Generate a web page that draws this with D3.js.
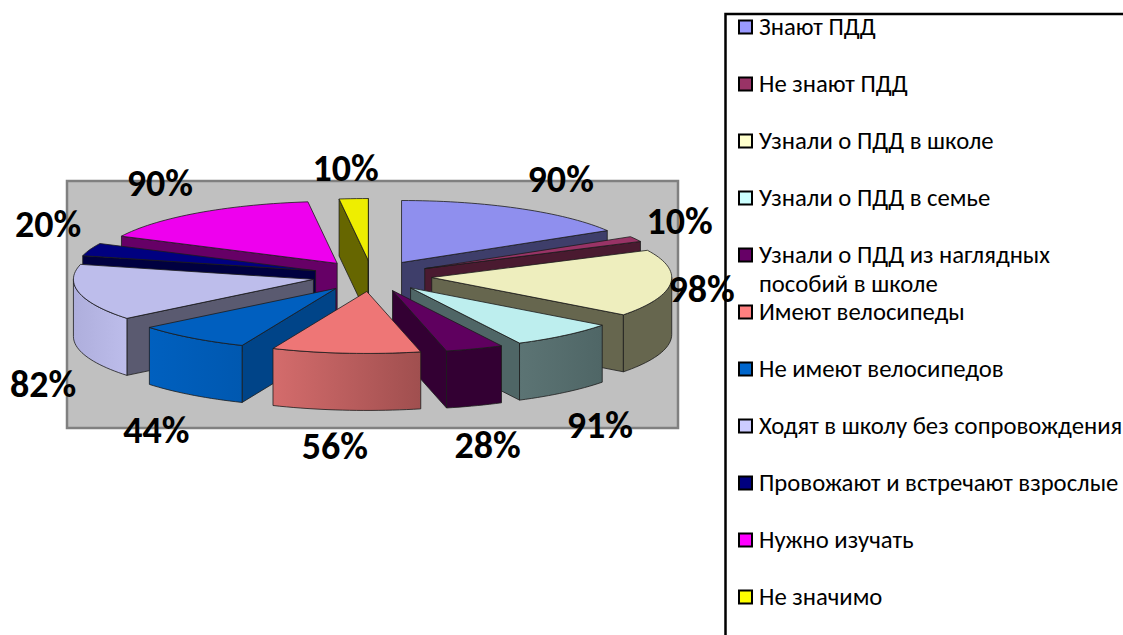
<!DOCTYPE html>
<html>
<head>
<meta charset="utf-8">
<script src="https://cdn.jsdelivr.net/npm/d3@7"></script>
<style>
    body { margin: 0; background: #fff; }
    svg { display: block; }
    text { font-family: Carlito, Lato, "Open Sans", sans-serif; fill: #000; }
</style>
</head>
<body>
<div class="container"></div>
<script>
const WIDTH = 1123;
const HEIGHT = 635;
const DEPTH = 57;
const EXPLODE = 0.25;

const categories = [
    'Знают ПДД',
    'Не знают ПДД',
    'Узнали о ПДД в школе',
    'Узнали о ПДД в семье',
    'Узнали о ПДД из наглядных\nпособий в школе',
    'Имеют велосипеды',
    'Не имеют велосипедов',
    'Ходят в школу без сопровождения',
    'Провожают и встречают взрослые',
    'Нужно изучать',
    'Не значимо'
];
// printed percentages
const percents = [90, 10, 98, 91, 28, 56, 44, 82, 20, 90, 10];
// the drawn slices do not follow the printed numbers, so their sizes are read off separately
const sliceSizes = [59, 5, 63, 26, 14, 36, 28, 53, 12, 57, 7];

const legendColors = ['#9999ff', '#993366', '#ffffcc', '#ccffff', '#660066', '#ff8080', '#0066cc', '#ccccff', '#000080', '#ff00ff', '#ffff00'];
const topColors = ['#8f8fee', '#993366', '#eeeebe', '#bdeeee', '#5f005f', '#ee7676', '#005fbf', '#bdbdeb', '#000080', '#ee00ee', '#eeee00'];
const wallColors = ['#3e3e6a', '#4a1a30', '#66664e', '#4f6666', '#330033', '#a35050', '#004488', '#5a5a70', '#000040', '#660066', '#666600'];
const arcLeft = ['#3e3e6a', '#4a1a30', '#66664e', '#5c7474', '#330033', '#d46c6c', '#0060bf', '#aeaedc', '#000040', '#660066', '#666600'];
const arcRight = ['#3e3e6a', '#4a1a30', '#66664e', '#4f6666', '#330033', '#a04f4f', '#0058b0', '#bdbdeb', '#000040', '#660066', '#666600'];

var fillLayout = function() {
    var svg = d3.select('.container').append('svg')
        .attr('width', WIDTH)
        .attr('height', HEIGHT);

    // flattened pie: the unit circle lands on a wide ellipse
    let xScale = d3.scaleLinear().domain([-1, 1]).range([132, 612]);
    let yScale = d3.scaleLinear().domain([-1, 1]).range([338, 214]);

    svg.append('rect')
        .attr('x', 67).attr('y', 181)
        .attr('width', 611).attr('height', 247)
        .attr('fill', '#c0c0c0')
        .attr('stroke', '#808080')
        .attr('stroke-width', 2.5);

    let pie = d3.pie().sort(null).value((d) => d);
    let slices = pie(sliceSizes).map((d, i) => {
        let mid = (d.startAngle + d.endAngle) / 2;
        return {
            i: i,
            a0: d.startAngle,
            a1: d.endAngle,
            mid: mid,
            ox: EXPLODE * Math.sin(mid),
            oy: EXPLODE * Math.cos(mid)
        };
    });

    let point = (s, a, r, drop) => [
        xScale(s.ox + r * Math.sin(a)),
        yScale(s.oy + r * Math.cos(a)) + drop
    ];
    let arcPoints = (s, a0, a1, drop) => {
        let n = Math.max(2, Math.ceil((a1 - a0) / 0.03));
        return d3.range(n + 1).map((k) => point(s, a0 + (a1 - a0) * k / n, 1, drop));
    };
    let line = d3.line();

    let defs = svg.append('defs');
    slices.forEach((s) => {
        let grad = defs.append('linearGradient').attr('id', 'side' + s.i);
        grad.append('stop').attr('offset', 0).attr('stop-color', arcLeft[s.i]);
        grad.append('stop').attr('offset', 1).attr('stop-color', arcRight[s.i]);
    });

    // back slices first
    let order = slices.slice().sort((a, b) => Math.cos(b.mid) - Math.cos(a.mid));
    let pieGroup = svg.append('g')
        .attr('stroke', '#1c1c1c')
        .attr('stroke-width', 0.8)
        .attr('stroke-linejoin', 'round');

    order.forEach((s) => {
        let g = pieGroup.append('g');
        let wall = (a) => {
            let p0 = point(s, a, 0, 0), p1 = point(s, a, 1, 0);
            g.append('path')
                .attr('fill', wallColors[s.i])
                .attr('d', line([p0, p1, point(s, a, 1, DEPTH), point(s, a, 0, DEPTH)]) + 'Z');
        };
        if (Math.sin(s.a0) < 0) wall(s.a0);
        if (Math.sin(s.a1) > 0) wall(s.a1);

        let from = Math.max(s.a0, Math.PI / 2);
        let to = Math.min(s.a1, 3 * Math.PI / 2);
        if (from < to) {
            let side = arcPoints(s, from, to, 0)
                .concat(arcPoints(s, from, to, DEPTH).reverse());
            g.append('path')
                .attr('fill', `url(#side${s.i})`)
                .attr('d', line(side) + 'Z');
        }

        let top = [point(s, 0, 0, 0)].concat(arcPoints(s, s.a0, s.a1, 0));
        g.append('path')
            .attr('fill', topColors[s.i])
            .attr('d', line(top) + 'Z');
    });

    // labels were placed by hand in the original, so each has its own shift from the arc middle
    const labelShift = [[41, -30], [44, -18], [31, 6], [35, 90], [13, 96], [-11, 93], [-35, 92], [-36, 91], [-42, -25], [-38, -30], [-8, -31]];
    svg.append('g').selectAll('text')
        .data(slices)
        .join('text')
        .attr('x', (s) => point(s, s.mid, 1, 0)[0] + labelShift[s.i][0])
        .attr('y', (s) => point(s, s.mid, 1, 0)[1] + labelShift[s.i][1] + 13)
        .attr('text-anchor', 'middle')
        .attr('font-size', 38)
        .attr('font-weight', 700)
        .text((s) => percents[s.i] + '%');

    // legend frame runs off the page on the right and bottom
    svg.append('path')
        .attr('d', `M${WIDTH},14H725.5V${HEIGHT}`)
        .attr('fill', 'none')
        .attr('stroke', '#000')
        .attr('stroke-width', 2.5);

    let legendY = d3.scalePoint()
        .domain(d3.range(categories.length))
        .range([27, 597]);

    let items = svg.append('g').selectAll('g')
        .data(categories)
        .join('g')
        .attr('transform', (d, i) => `translate(0,${legendY(i)})`);

    items.append('rect')
        .attr('x', 739).attr('y', -6.5)
        .attr('width', 13).attr('height', 13)
        .attr('fill', (d, i) => legendColors[i])
        .attr('stroke', '#000')
        .attr('stroke-width', 2);

    items.append('text')
        .attr('font-size', 24.7)
        .selectAll('tspan')
        .data((d) => d.split('\n'))
        .join('tspan')
        .attr('x', 759)
        .attr('y', (d, i) => 8 + i * 28.5)
        .text((d) => d);
};
window.onload = fillLayout;
</script>
</body>
</html>
